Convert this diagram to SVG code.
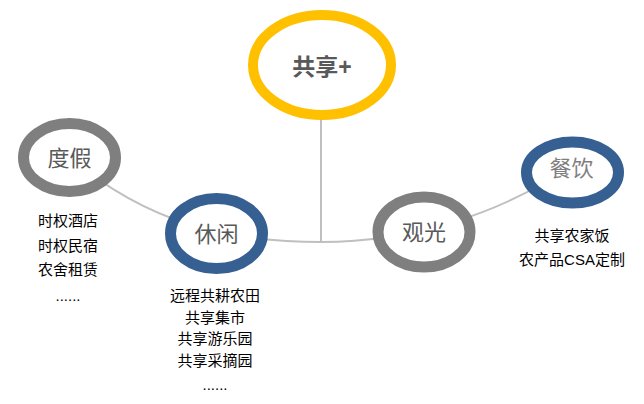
<svg xmlns="http://www.w3.org/2000/svg" width="644" height="404" viewBox="0 0 644 404">
<style>
.ring{fill:#fff;stroke-width:11}
.gold{stroke:#FFC000;stroke-width:10}
.gray{stroke:#7F7F7F}
.blue{stroke:#366092}
.lbl{font-family:"Liberation Sans","Noto Sans CJK SC",sans-serif;font-size:22px;fill:#595959;text-anchor:middle}
.item{font-family:"Liberation Sans","Noto Sans CJK SC",sans-serif;font-size:15px;fill:#000;text-anchor:middle}
.conn{fill:none;stroke:#BFBFBF;stroke-width:2}
</style>
<rect width="644" height="404" fill="#fff"/>
<g id="connectors">
<path class="conn" d="M321 115 L321 242"/>
<path class="conn" d="M69 157 C150 225 230 242 321 242 C410 242 500 215 572 165"/>
</g>
<g id="node-share">
<ellipse class="ring gold" cx="322" cy="65" rx="69" ry="50"/>
<text class="lbl" x="322" y="75" style="font-weight:bold;font-size:23px">共享+</text>
</g>
<g id="node-dujia">
<ellipse class="ring gray" cx="69.5" cy="157.5" rx="46" ry="34"/>
<text class="lbl" x="69.5" y="166">度假</text>
<text class="item" x="68" y="226">时权酒店</text>
<text class="item" x="68" y="251">时权民宿</text>
<text class="item" x="68" y="275">农舍租赁</text>
<text class="item" x="68" y="301">......</text>
</g>
<g id="node-xiuxian">
<ellipse class="ring blue" cx="216.5" cy="233.5" rx="46" ry="35"/>
<text class="lbl" x="216.5" y="242">休闲</text>
<text class="item" x="215" y="301">远程共耕农田</text>
<text class="item" x="215" y="323">共享集市</text>
<text class="item" x="215" y="344">共享游乐园</text>
<text class="item" x="215" y="366">共享采摘园</text>
<text class="item" x="215" y="390">......</text>
</g>
<g id="node-guanguang">
<ellipse class="ring gray" cx="424" cy="232" rx="46" ry="35"/>
<text class="lbl" x="424" y="240">观光</text>
</g>
<g id="node-canyin">
<ellipse class="ring blue" cx="572.5" cy="172.5" rx="46" ry="30.5"/>
<text class="lbl" x="571.5" y="176" style="fill:#7F7F7F">餐饮</text>
<text class="item" x="572" y="241">共享农家饭</text>
<text class="item" x="572" y="265">农产品CSA定制</text>
</g>
</svg>
